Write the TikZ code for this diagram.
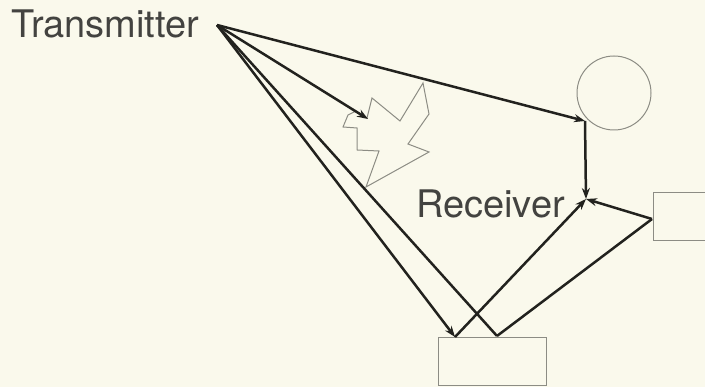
\documentclass[tikz,border=0pt]{standalone}
\usepackage{fontspec}
\setmainfont{TeX Gyre Heros}
\usetikzlibrary{arrows.meta}
\definecolor{paper}{RGB}{250,249,236}
\definecolor{ink}{RGB}{34,34,30}
\definecolor{pencil}{RGB}{140,140,132}

\begin{document}
\begin{tikzpicture}[x=1pt,y=-1pt,
		ray/.style={line width=2.5pt, draw=ink},
		hit/.style={ray, -{Stealth[length=11pt,width=8pt]}},
		thing/.style={draw=pencil, line width=1pt, inner sep=0pt}]
		\tikzstyle{every node}=[font=\fontsize{38pt}{45pt}\selectfont, text=ink!85]
		
		\useasboundingbox[fill=paper] (0,0) rectangle (705,387);
		\clip (0,0) rectangle (705,387);
		
		% labels
		\node[anchor=base west, inner sep=0pt] (txlabel) at (11,38) {Transmitter};
		\node[anchor=base west, inner sep=0pt] (rxlabel) at (416,218) {Receiver};
		
		% objects
		\node[thing, circle, minimum size=74pt] (ball) at (614,93) {};
		\node[thing, minimum width=108pt, minimum height=48pt, anchor=north west] (floor) at (438,337) {};
		\node[thing, minimum width=70pt, minimum height=48pt, anchor=north west] (wall) at (653,192) {};
		\draw[thing] (423,83) -- (429,114) -- (408,144) -- (429,152) -- (366,187) -- (379,151)
		-- (357,150) -- (357,128) -- (343,127) -- (348,115) -- (356,111) -- (367,118)
		-- (372,98) -- (400,121) -- cycle;
		
		% points
		\coordinate (tx) at (217,25);
		\coordinate (rx) at (586,199);
		\coordinate (ballhit) at (585,121);
		\coordinate (cloudhit) at (368,119);
		\coordinate (floorhitA) at (455,337);
		\coordinate (floorhitB) at (497,336);
		\coordinate (wallhit) at (652,219);
		
		% rays
		\draw[hit] (tx) -- (ballhit);
		\draw[hit] (tx) -- (cloudhit);
		\draw[hit] (tx) -- (floorhitA);
		\draw[ray] (tx) -- (floorhitB);
		\draw[hit] (ballhit) -- (rx);
		\draw[hit] (floorhitA) -- (rx);
		\draw[ray] (floorhitB) -- (wallhit);
		\draw[hit] (wallhit) -- (rx);
		
	\end{tikzpicture}
\end{document}
